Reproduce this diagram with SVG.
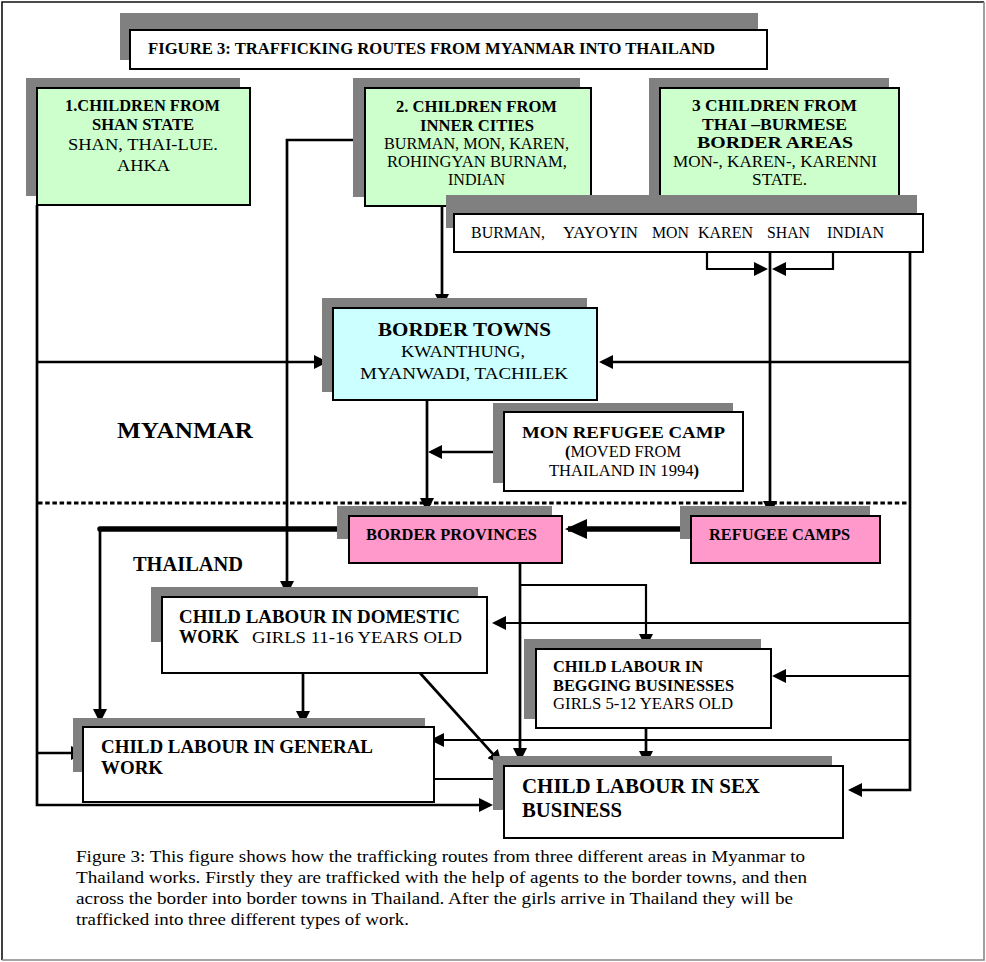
<svg xmlns="http://www.w3.org/2000/svg" width="986" height="962" viewBox="0 0 986 962">
  <style>
    text { font-family: "Liberation Serif", "Times New Roman", serif; fill: #000; }
    .b { font-weight: bold; }
    .f16 { font-size: 16px; }
    .f17 { font-size: 17px; }
    .f19 { font-size: 19px; }
    .f21 { font-size: 21px; }
    .shadow { fill: #808080; }
    .box { stroke: #000; stroke-width: 2; }
    .white { fill: #fff; }
    .green { fill: #ccffcc; }
    .cyan { fill: #ccffff; }
    .pink { fill: #ff99cc; }
    .wire { fill: none; stroke: #000; stroke-width: 2.7; }
    .thin { stroke-width: 2.2; }
    .thick { fill: none; stroke: #000; stroke-width: 5.5; }
  </style>
  <defs>
    <marker id="ah" markerUnits="userSpaceOnUse" markerWidth="14" markerHeight="14" viewBox="0 0 14 14" refX="11" refY="7" orient="auto">
      <path d="M0,0 L14,7 L0,14 z" fill="#000"/>
    </marker>
    <marker id="ahBig" markerUnits="userSpaceOnUse" markerWidth="22" markerHeight="20" viewBox="0 0 22 20" refX="19" refY="10" orient="auto">
      <path d="M0,0 L22,10 L0,20 z" fill="#000"/>
    </marker>
  </defs>

  <!-- page frame -->
  <rect x="0" y="0" width="986" height="962" fill="#fff"/>
  <path d="M2,960 V2 H984" fill="none" stroke="#111" stroke-width="1.6"/>
  <path d="M984,2 V960 H2" fill="none" stroke="#888" stroke-width="1.6"/>

  <!-- connectors -->
  <g id="connectors">
    <!-- inner cities down the left to domestic work -->
    <path class="wire" d="M362,140 H287 V592" marker-end="url(#ah)"/>
    <!-- inner cities to border towns -->
    <path class="wire" d="M442,206 V305" marker-end="url(#ah)"/>
    <!-- Shan state trunk -->
    <path class="wire" d="M37,205 V805 H490" marker-end="url(#ah)"/>
    <path class="wire" d="M37,362 H325" marker-end="url(#ah)"/>
    <path class="wire" d="M37,753 H82" marker-end="url(#ah)"/>
    <!-- ethnic groups trunk on the right -->
    <path class="wire" d="M910,252 V790 H851" marker-end="url(#ah)"/>
    <path class="wire" d="M910,362 H602" marker-end="url(#ah)"/>
    <path class="wire thin" d="M910,623 H495" marker-end="url(#ah)"/>
    <path class="wire thin" d="M910,676 H775" marker-end="url(#ah)"/>
    <path class="wire thin" d="M910,740 H433" marker-end="url(#ah)"/>
    <!-- Karen / Shan / Indian to refugee camps -->
    <path class="wire" d="M770,252 V512" marker-end="url(#ah)"/>
    <path class="wire thin" d="M707,252 V269 H765" marker-end="url(#ah)"/>
    <path class="wire thin" d="M833,252 V269 H775" marker-end="url(#ah)"/>
    <!-- border towns to border provinces -->
    <path class="wire" d="M427,400 V509" marker-end="url(#ah)"/>
    <path class="wire" d="M504,452 H431" stroke-width="2" marker-end="url(#ah)"/>
    <!-- refugee camps to border provinces -->
    <path class="thick" d="M691,529 H568" marker-end="url(#ahBig)"/>
    <!-- border provinces outwards -->
    <path class="thick" d="M337,529 H100" stroke-linecap="round"/>
    <path class="wire" d="M100,529 V720" marker-end="url(#ah)"/>
    <path class="wire" d="M520,563 V759" marker-end="url(#ah)"/>
    <path class="wire thin" d="M520,585 H646 V645" marker-end="url(#ah)"/>
    <!-- domestic work outwards -->
    <path class="wire" d="M303,673 V722" marker-end="url(#ah)"/>
    <path class="wire" d="M420,673 L500,761.8" stroke-width="2" marker-end="url(#ah)"/>
    <!-- begging to sex business -->
    <path class="wire" d="M646,728 V762" marker-end="url(#ah)"/>
    <!-- general work to sex business -->
    <path class="wire thin" d="M412,779 H503"/>
    <!-- border line -->
    <path d="M38,503 H910" fill="none" stroke="#000" stroke-width="3" stroke-dasharray="4.5 2.7"/>
  </g>

  <g id="title">
    <rect class="shadow" x="120" y="13" width="638" height="47"/>
    <rect class="box white" x="130" y="30" width="637" height="39"/>
    <text class="b f17" x="148" y="54" textLength="567" lengthAdjust="spacingAndGlyphs">FIGURE 3: TRAFFICKING ROUTES FROM MYANMAR  INTO THAILAND</text>
  </g>

  <g id="src-shan">
    <rect class="shadow" x="26" y="78" width="214" height="118"/>
    <rect class="box green" x="37" y="88" width="213" height="117"/>
    <text class="b f16" x="65" y="111" textLength="155" lengthAdjust="spacingAndGlyphs">1.CHILDREN FROM</text>
    <text class="b f16" x="92" y="130" textLength="102" lengthAdjust="spacingAndGlyphs">SHAN STATE</text>
    <text class="f16" x="68" y="150" textLength="150" lengthAdjust="spacingAndGlyphs">SHAN, THAI-LUE.</text>
    <text class="f16" x="117" y="171" textLength="53" lengthAdjust="spacingAndGlyphs">AHKA</text>
  </g>

  <g id="src-inner">
    <rect class="shadow" x="353" y="78" width="227" height="119"/>
    <rect class="box green" x="365" y="88" width="226" height="118"/>
    <text class="b f16" x="396" y="112" textLength="161" lengthAdjust="spacingAndGlyphs">2. CHILDREN FROM</text>
    <text class="b f16" x="420" y="131" textLength="114" lengthAdjust="spacingAndGlyphs">INNER CITIES</text>
    <text class="f16" x="384" y="149" textLength="185" lengthAdjust="spacingAndGlyphs">BURMAN, MON, KAREN,</text>
    <text class="f16" x="387" y="167" textLength="180" lengthAdjust="spacingAndGlyphs">ROHINGYAN BURNAM,</text>
    <text class="f16" x="448" y="185" textLength="57" lengthAdjust="spacingAndGlyphs">INDIAN</text>
  </g>

  <g id="src-border">
    <rect class="shadow" x="649" y="78" width="240" height="118"/>
    <rect class="box green" x="660" y="88" width="239" height="118"/>
    <text class="b f16" x="692" y="111" textLength="165" lengthAdjust="spacingAndGlyphs">3 CHILDREN FROM</text>
    <text class="b f16" x="702" y="130" textLength="145" lengthAdjust="spacingAndGlyphs">THAI –BURMESE</text>
    <text class="b f16" x="697" y="148" textLength="156" lengthAdjust="spacingAndGlyphs">BORDER AREAS</text>
    <text class="f16" x="673" y="167" textLength="204" lengthAdjust="spacingAndGlyphs">MON-, KAREN-, KARENNI</text>
    <text class="f16" x="752" y="185" textLength="55" lengthAdjust="spacingAndGlyphs">STATE.</text>
  </g>

  <g id="ethnic-groups">
    <rect class="shadow" x="446" y="195" width="471" height="33"/>
    <rect class="box white" x="454" y="214" width="469" height="38"/>
    <text class="f17" x="471" y="238" textLength="74" lengthAdjust="spacingAndGlyphs">BURMAN,</text>
    <text class="f17" x="563" y="238" textLength="75" lengthAdjust="spacingAndGlyphs">YAYOYIN</text>
    <text class="f17" x="652" y="238" textLength="37" lengthAdjust="spacingAndGlyphs">MON</text>
    <text class="f17" x="698" y="238" textLength="55" lengthAdjust="spacingAndGlyphs">KAREN</text>
    <text class="f17" x="767" y="238" textLength="43" lengthAdjust="spacingAndGlyphs">SHAN</text>
    <text class="f17" x="827" y="238" textLength="57" lengthAdjust="spacingAndGlyphs">INDIAN</text>
  </g>

  <g id="border-towns">
    <rect class="shadow" x="322" y="298" width="265" height="94"/>
    <rect class="box cyan" x="333" y="308" width="264" height="92"/>
    <text class="b f19" x="378" y="336" textLength="173" lengthAdjust="spacingAndGlyphs">BORDER TOWNS</text>
    <text class="f17" x="401" y="357" textLength="124" lengthAdjust="spacingAndGlyphs">KWANTHUNG,</text>
    <text class="f17" x="360" y="379" textLength="208" lengthAdjust="spacingAndGlyphs">MYANWADI, TACHILEK</text>
  </g>

  <g id="mon-camp">
    <rect class="shadow" x="493" y="403" width="240" height="80"/>
    <rect class="box white" x="504" y="412" width="239" height="79"/>
    <text class="b f17" x="522" y="438" textLength="203" lengthAdjust="spacingAndGlyphs">MON REFUGEE CAMP</text>
    <text class="f16" x="565" y="457" textLength="116" lengthAdjust="spacingAndGlyphs"><tspan class="b">(</tspan>MOVED FROM</text>
    <text class="f16" x="549" y="476" textLength="150" lengthAdjust="spacingAndGlyphs">THAILAND IN 1994<tspan class="b">)</tspan></text>
  </g>

  <g id="region-labels">
    <text class="b" x="117" y="438" font-size="23" textLength="136" lengthAdjust="spacingAndGlyphs">MYANMAR</text>
    <text class="b" x="133" y="571" font-size="20" textLength="110" lengthAdjust="spacingAndGlyphs">THAILAND</text>
  </g>

  <g id="border-provinces">
    <rect class="shadow" x="337" y="506" width="215" height="33"/>
    <rect class="box pink" x="349" y="516" width="213" height="47"/>
    <text class="b f17" x="366" y="540" textLength="171" lengthAdjust="spacingAndGlyphs">BORDER PROVINCES</text>
  </g>

  <g id="refugee-camps">
    <rect class="shadow" x="680" y="506" width="190" height="33"/>
    <rect class="box pink" x="691" y="516" width="189" height="47"/>
    <text class="b f17" x="709" y="540" textLength="141" lengthAdjust="spacingAndGlyphs">REFUGEE CAMPS</text>
  </g>

  <g id="domestic">
    <rect class="shadow" x="151" y="587" width="327" height="55"/>
    <rect class="box white" x="162" y="597" width="325" height="76"/>
    <text class="b f19" x="179" y="623" textLength="281" lengthAdjust="spacingAndGlyphs">CHILD LABOUR IN DOMESTIC</text>
    <text class="b f19" x="179" y="643" textLength="60" lengthAdjust="spacingAndGlyphs">WORK</text>
    <text class="f17" x="252" y="643" textLength="210" lengthAdjust="spacingAndGlyphs">GIRLS 11-16 YEARS OLD</text>
  </g>

  <g id="begging">
    <rect class="shadow" x="524" y="639" width="237" height="80"/>
    <rect class="box white" x="536" y="649" width="235" height="79"/>
    <text class="b f16" x="553" y="672" textLength="150" lengthAdjust="spacingAndGlyphs">CHILD LABOUR IN</text>
    <text class="b f16" x="553" y="691" textLength="181" lengthAdjust="spacingAndGlyphs">BEGGING BUSINESSES</text>
    <text class="f16" x="553" y="709" textLength="180" lengthAdjust="spacingAndGlyphs">GIRLS  5-12 YEARS OLD</text>
  </g>

  <g id="general">
    <rect class="shadow" x="73" y="718" width="352" height="54"/>
    <rect class="box white" x="83" y="727" width="351" height="75"/>
    <text class="b f19" x="101" y="753" textLength="272" lengthAdjust="spacingAndGlyphs">CHILD LABOUR IN GENERAL</text>
    <text class="b f19" x="101" y="774" textLength="62" lengthAdjust="spacingAndGlyphs">WORK</text>
  </g>

  <g id="sex">
    <rect class="shadow" x="493" y="756" width="339" height="54"/>
    <rect class="box white" x="504" y="766" width="339" height="72"/>
    <text class="b f21" x="522" y="793" textLength="238" lengthAdjust="spacingAndGlyphs">CHILD LABOUR IN SEX</text>
    <text class="b f21" x="522" y="817" textLength="100" lengthAdjust="spacingAndGlyphs">BUSINESS</text>
  </g>

  <g id="caption">
    <text class="f17" x="76" y="862" textLength="729" lengthAdjust="spacingAndGlyphs">Figure 3: This figure shows how the trafficking routes from three different areas in Myanmar to</text>
    <text class="f17" x="76" y="883" textLength="731" lengthAdjust="spacingAndGlyphs">Thailand works. Firstly they are trafficked with the help of agents to the border towns, and then</text>
    <text class="f17" x="76" y="904" textLength="717" lengthAdjust="spacingAndGlyphs">across the border into border towns in Thailand. After the girls arrive in Thailand they will be</text>
    <text class="f17" x="76" y="925" textLength="333" lengthAdjust="spacingAndGlyphs">trafficked into three different types of work.</text>
  </g>
</svg>
